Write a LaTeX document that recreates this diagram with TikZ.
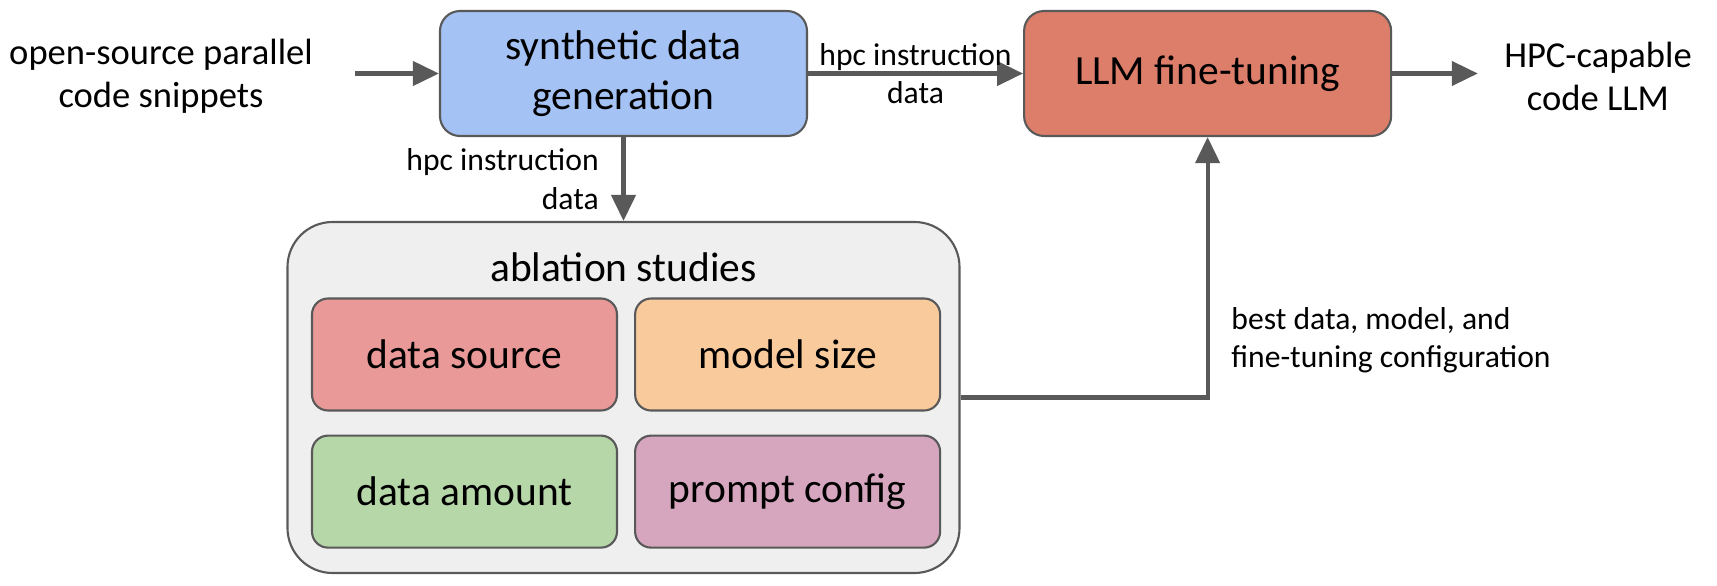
\documentclass[tikz,border=0pt]{standalone}
\usepackage{fontspec}
\setmainfont{Carlito}
\usepackage{tikz}
\usetikzlibrary{positioning,arrows.meta}
\definecolor{GenBlue}{HTML}{A4C2F4}
\definecolor{TuneRed}{HTML}{DD7E6B}
\definecolor{SrcRed}{HTML}{EA9999}
\definecolor{SizeOrange}{HTML}{F9CB9C}
\definecolor{AmtGreen}{HTML}{B6D7A8}
\definecolor{CfgPink}{HTML}{D5A6BD}
\definecolor{AblGray}{HTML}{EFEFEF}
\definecolor{Edge}{HTML}{595959}

\begin{document}
\begin{tikzpicture}[
    box/.style={rectangle, draw=Edge, line width=0.6pt, rounded corners=2mm,
                minimum width=3.67cm, minimum height=1.25cm, align=center,
                font=\fontsize{11.8}{14.3}\selectfont},
    sub/.style={box, rounded corners=1.6mm, minimum width=3.05cm, minimum height=1.12cm},
    side/.style={align=center, font=\fontsize{10.4}{12.2}\selectfont},
    lbl/.style={align=center, font=\fontsize{9}{11}\selectfont},
    arrow/.style={-{Triangle[length=2.6mm, width=2.4mm]}, line width=1.2pt, draw=Edge}
]
    \useasboundingbox (0,0) rectangle (17.17,-5.86);

    \node[box, fill=GenBlue] (gen) at (6.235,-0.735) {synthetic data\\generation};
    \node[box, fill=TuneRed, right=2.15cm of gen] (tune) {LLM fine-tuning};
    \node[side] (src) at (1.61,-0.76) {open-source parallel\\code snippets};
    \node[side] (out) at (15.98,-0.76) {HPC-capable\\code LLM};

    % ablation block
    \node[box, fill=AblGray, rounded corners=4.5mm,
          minimum width=6.72cm, minimum height=3.51cm] (abl) at (6.235,-3.975) {};
    \node[box, draw=none, fill=none, minimum height=0cm] (ttl) at (6.235,-2.67) {ablation studies};
    \node[sub, fill=SrcRed] (dsrc) at (4.645,-3.545) {data source};
    \node[sub, fill=SizeOrange, right=0.16cm of dsrc] (msize) {model size};
    \node[sub, fill=AmtGreen, below=0.23cm of dsrc]   (damt)  {data amount};
    \node[sub, fill=CfgPink, right=0.16cm of damt]    (pcfg)  {prompt config};

    \coordinate (srcend) at ([xshift=3mm]src.east);
    \coordinate (outend) at ([xshift=-1.4mm]out.west);

    \draw[arrow] (srcend |- gen.west) -- (gen.west);
    \draw[arrow] (gen) -- node[lbl] {hpc instruction\\data} (tune);
    \draw[arrow] (tune.east) -- (outend |- tune.east);
    \draw[arrow] (gen) -- node[lbl, left=1.1mm, align=right] {hpc instruction\\data} (abl);
    \draw[arrow] (abl) -| node[lbl, pos=0.61, right=1mm, align=left]
        {best data, model, and\\fine-tuning configuration} (tune);
\end{tikzpicture}
\end{document}
